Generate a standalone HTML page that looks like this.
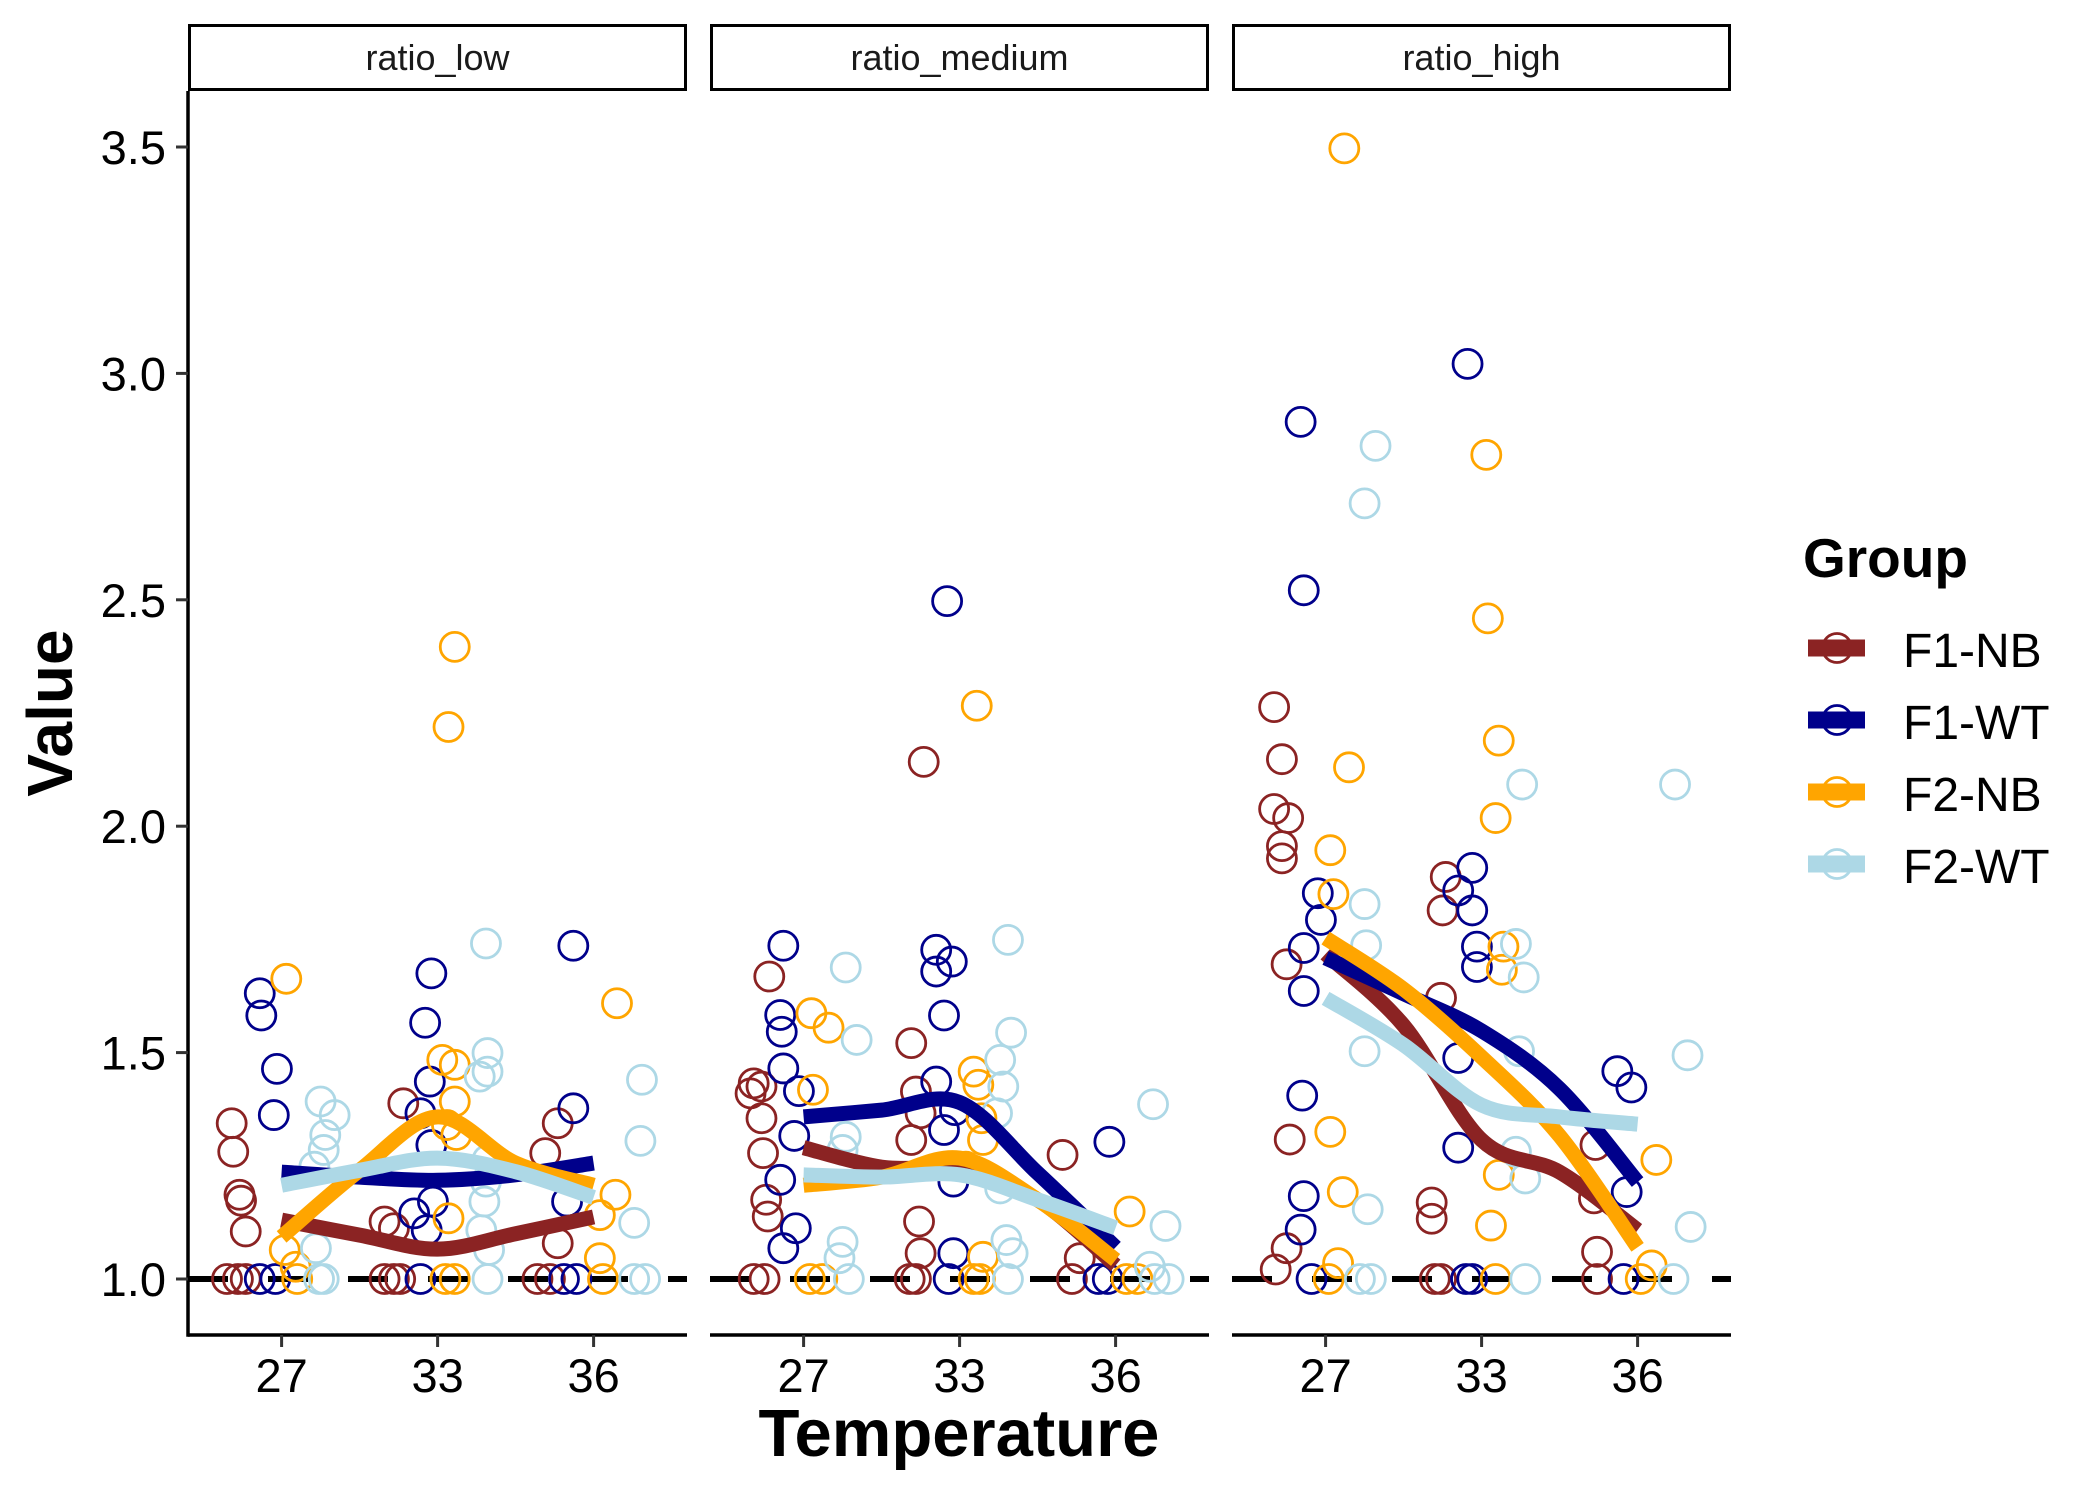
<!DOCTYPE html>
<html><head><meta charset="utf-8"><style>
html,body{margin:0;padding:0;background:#fff;}
svg{display:block;font-family:"Liberation Sans",Arial,sans-serif;}
</style></head><body>
<svg id="chart" width="2100" height="1500" viewBox="0 0 2100 1500" xmlns="http://www.w3.org/2000/svg">
<rect width="2100" height="1500" fill="#fff"/>
<g id="panels"></g>
<g id="axes"></g>
<text x="959" y="1456" font-size="67" font-weight="bold" text-anchor="middle">Temperature</text>
<text transform="translate(72,713) rotate(-90)" font-size="64" font-weight="bold" text-anchor="middle">Value</text>
<g id="legend">
<text x="1803" y="577" font-size="55" font-weight="bold">Group</text>
</g>
</svg>
<script>
const NS="http://www.w3.org/2000/svg";
const facets=["ratio_low","ratio_medium","ratio_high"];
const categories=["27","33","36"];
const groups=["F1-NB","F1-WT","F2-NB","F2-WT"];
const colors=["#8B2323","#00008B","#FFA500","#ADD8E6"];
const yTicks=[1.0,1.5,2.0,2.5,3.0,3.5];
const yTickLabels=["1.0","1.5","2.0","2.5","3.0","3.5"];
const smoothX=[1,1.5,2,2.5,3];
// smooth line values [facet][group]
const smoothLow=[[1.13,1.097,1.066,1.10,1.137],[1.236,1.225,1.218,1.23,1.256],[1.093,1.24,1.358,1.256,1.207],[1.207,1.24,1.267,1.237,1.18]];
const smoothMed=[[1.29,1.247,1.24,1.175,1.03],[1.358,1.373,1.39,1.234,1.07],[1.207,1.225,1.267,1.175,1.042],[1.23,1.225,1.23,1.175,1.113]];
const smoothHigh=[[1.718,1.56,1.307,1.236,1.108],[1.709,1.63,1.548,1.42,1.214],[1.753,1.64,1.49,1.316,1.07],[1.62,1.517,1.384,1.358,1.342]];
// points: [category index, jitter offset, value]
const ptsLow=[
[[0,-0.32,1.344],[0,-0.31,1.281],[0,-0.27,1.186],[0,-0.26,1.173],[0,-0.23,1.105],[0,-0.35,1.0],[0,-0.23,1.0],[0,-0.28,1.0],[1,-0.22,1.388],[1,-0.34,1.127],[1,-0.28,1.112],[1,-0.34,1.0],[1,-0.28,1.0],[1,-0.24,1.0],[2,-0.23,1.344],[2,-0.31,1.278],[2,-0.23,1.079],[2,-0.36,1.0],[2,-0.28,1.0]],
[[0,-0.14,1.631],[0,-0.13,1.582],[0,-0.03,1.464],[0,-0.05,1.362],[0,-0.14,1.0],[0,-0.04,1.0],[1,-0.04,1.675],[1,-0.08,1.566],[1,-0.05,1.436],[1,-0.11,1.366],[1,-0.04,1.296],[1,-0.03,1.171],[1,-0.15,1.145],[1,-0.07,1.108],[1,-0.11,1.0],[2,-0.13,1.736],[2,-0.13,1.377],[2,-0.17,1.171],[2,-0.11,1.0],[2,-0.19,1.0]],
[[0,0.03,1.663],[0,0.02,1.064],[0,0.10,1.0],[0,0.09,1.027],[1,0.03,1.484],[1,0.11,1.473],[1,0.11,1.392],[1,0.06,1.34],[1,0.12,1.318],[1,0.07,1.134],[1,0.05,1.0],[1,0.11,1.0],[1,0.11,2.396],[1,0.07,2.219],[2,0.15,1.609],[2,0.14,1.186],[2,0.04,1.141],[2,0.04,1.046],[2,0.06,1.0]],
[[0,0.25,1.392],[0,0.34,1.362],[0,0.28,1.318],[0,0.27,1.285],[0,0.21,1.248],[0,0.22,1.068],[0,0.24,1.0],[0,0.27,1.0],[1,0.31,1.741],[1,0.32,1.499],[1,0.32,1.458],[1,0.27,1.447],[1,0.32,1.263],[1,0.31,1.215],[1,0.30,1.171],[1,0.28,1.108],[1,0.33,1.064],[1,0.32,1.0],[2,0.31,1.44],[2,0.30,1.305],[2,0.26,1.124],[2,0.26,1.0],[2,0.33,1.0]]];
const ptsMed=[
[[0,-0.22,1.668],[0,-0.32,1.432],[0,-0.27,1.425],[0,-0.34,1.41],[0,-0.27,1.355],[0,-0.26,1.278],[0,-0.24,1.175],[0,-0.23,1.138],[0,-0.32,1.0],[0,-0.25,1.0],[1,-0.31,1.521],[1,-0.28,1.414],[1,-0.25,1.366],[1,-0.31,1.307],[1,-0.26,1.127],[1,-0.25,1.057],[1,-0.32,1.0],[1,-0.28,1.0],[1,-0.23,2.142],[2,-0.34,1.274],[2,-0.23,1.046],[2,-0.28,1.0]],
[[0,-0.13,1.736],[0,-0.15,1.583],[0,-0.14,1.546],[0,-0.13,1.465],[0,-0.03,1.415],[0,-0.06,1.316],[0,-0.15,1.219],[0,-0.05,1.112],[0,-0.13,1.068],[1,-0.15,1.727],[1,-0.05,1.701],[1,-0.15,1.679],[1,-0.10,1.582],[1,-0.15,1.436],[1,-0.03,1.373],[1,-0.10,1.329],[1,-0.04,1.215],[1,-0.04,1.057],[1,-0.07,1.0],[1,-0.08,2.497],[2,-0.04,1.303],[2,-0.05,1.0],[2,-0.11,1.0]],
[[0,0.05,1.587],[0,0.16,1.555],[0,0.06,1.418],[0,0.04,1.0],[0,0.12,1.0],[1,0.09,1.458],[1,0.12,1.429],[1,0.14,1.355],[1,0.15,1.307],[1,0.04,1.248],[1,0.15,1.049],[1,0.09,1.0],[1,0.13,1.0],[1,0.11,2.266],[2,0.09,1.149],[2,0.07,1.0],[2,0.14,1.0]],
[[0,0.27,1.688],[0,0.34,1.528],[0,0.27,1.314],[0,0.25,1.285],[0,0.25,1.082],[0,0.23,1.046],[0,0.29,1.0],[1,0.31,1.749],[1,0.33,1.544],[1,0.26,1.484],[1,0.28,1.425],[1,0.24,1.366],[1,0.26,1.2],[1,0.30,1.086],[1,0.34,1.057],[1,0.31,1.0],[2,0.24,1.386],[2,0.32,1.117],[2,0.22,1.027],[2,0.25,1.0],[2,0.34,1.0]]];
const ptsHigh=[
[[0,-0.33,2.263],[0,-0.28,2.148],[0,-0.33,2.038],[0,-0.24,2.018],[0,-0.28,1.956],[0,-0.28,1.929],[0,-0.25,1.695],[0,-0.23,1.308],[0,-0.32,1.021],[0,-0.25,1.068],[1,-0.23,1.888],[1,-0.25,1.814],[1,-0.26,1.621],[1,-0.32,1.169],[1,-0.32,1.133],[1,-0.30,1.0],[1,-0.26,1.0],[2,-0.26,1.06],[2,-0.26,1.0],[2,-0.27,1.296],[2,-0.28,1.178]],
[[0,-0.16,2.893],[0,-0.14,2.521],[0,-0.05,1.852],[0,-0.03,1.793],[0,-0.14,1.731],[0,-0.14,1.636],[0,-0.15,1.405],[0,-0.14,1.183],[0,-0.16,1.109],[0,-0.09,1.0],[1,-0.09,3.021],[1,-0.06,1.908],[1,-0.15,1.858],[1,-0.06,1.814],[1,-0.03,1.734],[1,-0.03,1.689],[1,-0.15,1.488],[1,-0.15,1.29],[1,-0.10,1.0],[1,-0.06,1.0],[2,-0.13,1.459],[2,-0.04,1.423],[2,-0.07,1.192],[2,-0.09,1.0]],
[[0,0.12,3.497],[0,0.03,1.947],[0,0.15,2.13],[0,0.05,1.85],[0,0.03,1.325],[0,0.11,1.192],[0,0.08,1.035],[0,0.02,1.0],[1,0.03,2.82],[1,0.04,2.459],[1,0.11,2.189],[1,0.09,2.018],[1,0.14,1.734],[1,0.13,1.683],[1,0.11,1.23],[1,0.06,1.118],[1,0.09,1.0],[2,0.12,1.263],[2,0.09,1.03],[2,0.02,1.0]],
[[0,0.32,2.84],[0,0.25,2.713],[0,0.25,1.828],[0,0.26,1.737],[0,0.25,1.503],[0,0.27,1.154],[0,0.29,1.0],[0,0.22,1.0],[1,0.26,2.092],[1,0.22,1.74],[1,0.27,1.666],[1,0.24,1.503],[1,0.22,1.281],[1,0.28,1.222],[1,0.28,1.0],[2,0.24,2.092],[2,0.32,1.494],[2,0.34,1.115],[2,0.23,1.0]]];

const smooths=[smoothLow,smoothMed,smoothHigh];
const points=[ptsLow,ptsMed,ptsHigh];
const panelLefts=[188,710,1232], panelW=499, catStep=156;
const yTop=91, yBottom=1335;
function xS(p,c){return panelLefts[p]+(c-0.4)*catStep;}
function yS(v){return 1279-(v-1)*452.8;}
function mk(tag,attrs,parent){const e=document.createElementNS(NS,tag);for(const k in attrs)e.setAttribute(k,attrs[k]);parent.appendChild(e);return e;}
function smoothPath(pts){
  let d="M"+pts[0][0]+","+pts[0][1];
  for(let i=0;i<pts.length-1;i++){
    const p0=pts[Math.max(i-1,0)],p1=pts[i],p2=pts[i+1],p3=pts[Math.min(i+2,pts.length-1)];
    const c1x=p1[0]+(p2[0]-p0[0])/6,c1y=p1[1]+(p2[1]-p0[1])/6;
    const c2x=p2[0]-(p3[0]-p1[0])/6,c2y=p2[1]-(p3[1]-p1[1])/6;
    d+=" C"+c1x+","+c1y+" "+c2x+","+c2y+" "+p2[0]+","+p2[1];
  }
  return d;
}
const panelsG=document.getElementById("panels");
const axesG=document.getElementById("axes");
for(let p=0;p<3;p++){
  const L=panelLefts[p];
  const g=mk("g",{},panelsG);
  
  
  const strip=mk("rect",{x:L+1.5,y:25.5,width:panelW-3,height:64,fill:"#fff",stroke:"#000","stroke-width":3},g);
  
  
  const st=mk("text",{x:L+panelW/2,y:70,"font-size":36,"text-anchor":"middle",fill:"#1a1a1a"},g);
  st.textContent=facets[p];
  
  
  const ref=mk("line",{x1:L,x2:L+panelW,y1:yS(1),y2:yS(1),stroke:"#000","stroke-width":6,"stroke-dasharray":"40 40"},g);
  
  
  for(let gi=0;gi<4;gi++){
    for(const pt of points[p][gi]){
      const c=mk("circle",{cx:xS(p,pt[0]+1+pt[1]),cy:yS(pt[2]),r:14.5,fill:"none",stroke:colors[gi],"stroke-width":2.8},g);
      
      
    }
  }
  for(let gi=0;gi<4;gi++){
    const pts=smoothX.map((x,i)=>[xS(p,x),yS(smooths[p][gi][i])]);
    const path=mk("path",{d:smoothPath(pts),fill:"none",stroke:colors[gi],"stroke-width":15},g);
    
    
  }
  const xa=mk("line",{x1:L,x2:L+panelW,y1:yBottom,y2:yBottom,stroke:"#000","stroke-width":3.5},axesG);
  
  
  categories.forEach((cat,ci)=>{
    const x=xS(p,ci+1);
    const t=mk("line",{x1:x,x2:x,y1:yBottom,y2:yBottom+12,stroke:"#333","stroke-width":3},axesG);
    
    
    const tl=mk("text",{x:x,y:1392,"font-size":47,"text-anchor":"middle",fill:"#000"},axesG);
    tl.textContent=cat;
    
    
  });
}
const ya=mk("line",{x1:188,x2:188,y1:yTop,y2:yBottom+1.7,stroke:"#000","stroke-width":3.5},axesG);


yTicks.forEach((v,i)=>{
  const y=yS(v);
  const t=mk("line",{x1:176,x2:188,y1:y,y2:y,stroke:"#333","stroke-width":3},axesG);
  
  
  const tl=mk("text",{x:166,y:y+17,"font-size":47,"text-anchor":"end",fill:"#000"},axesG);
  tl.textContent=yTickLabels[i];
  
  
});
const legend=document.getElementById("legend");
groups.forEach((gname,i)=>{
  const cy=648+i*72;
  const e=mk("g",{},legend);
  
  
  mk("circle",{cx:1837,cy:cy,r:14.5,fill:"none",stroke:colors[i],"stroke-width":2.8},e);
  mk("line",{x1:1808,x2:1865,y1:cy,y2:cy,stroke:colors[i],"stroke-width":17},e);
  const t=mk("text",{x:1903,y:cy+19,"font-size":48,fill:"#000"},e);
  t.textContent=gname;
});
</script>
</body></html>
